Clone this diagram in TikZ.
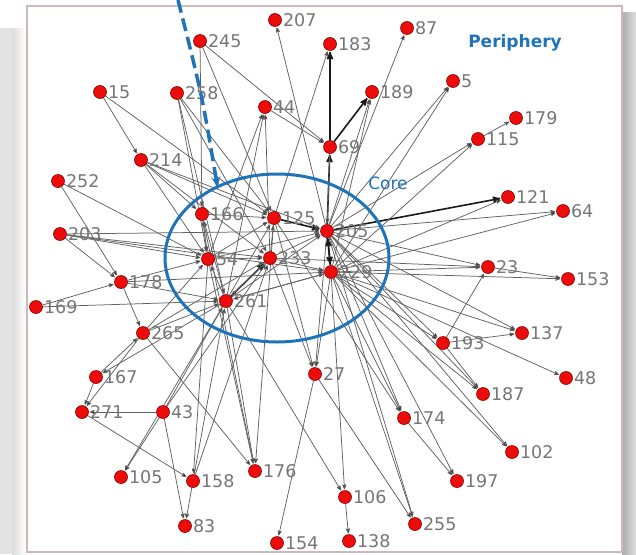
\documentclass[tikz,border=0pt]{standalone}
\usepackage{fontspec}
\setmainfont{DejaVu Sans}
\usepackage{tikz}
\usetikzlibrary{arrows}
\usetikzlibrary{backgrounds}
\definecolor{coreblue}{RGB}{30,115,185}
\definecolor{nodered}{RGB}{236,12,12}
\definecolor{labelgray}{RGB}{118,118,118}
\definecolor{framerose}{RGB}{205,185,185}

\begin{document}
\begin{tikzpicture}[->,>=stealth',shorten >=1pt,x=1pt,y=-1pt]
    \tikzstyle{vertex} = [circle, fill=nodered, draw=red!55!black, line width=0.6pt, minimum size=13pt,
       inner sep=0pt, label distance=0pt]
    \tikzstyle{lbl} = [text=labelgray, font=\fontsize{17.5}{19}\selectfont, inner sep=1pt]
    \tikzstyle{edge} = [draw=black!62, line width=0.75pt]
    \tikzstyle{heavy} = [draw=black!90, line width=1.6pt]
    \tikzstyle{tag} = [text=coreblue, font=\fontsize{17}{19}\selectfont, inner sep=0pt]
    \useasboundingbox (0,0) rectangle (636,554);

    %nodes
    \node[vertex, label={[lbl]right:207}] (n207) at (275,20) {};
    \node[vertex, label={[lbl]right:87}]  (n87)  at (407,28) {};
    \node[vertex, label={[lbl]right:245}] (n245) at (200,41) {};
    \node[vertex, label={[lbl]right:183}] (n183) at (330,44) {};
    \node[vertex, label={[lbl]right:15}]  (n15)  at (100,92) {};
    \node[vertex, label={[lbl]right:258}] (n258) at (177,93) {};
    \node[vertex, label={[lbl]right:5}]   (n5)   at (453,81) {};
    \node[vertex, label={[lbl]right:189}] (n189) at (372,92) {};
    \node[vertex, label={[lbl]right:44}]  (n44)  at (265,107) {};
    \node[vertex, label={[lbl]right:179}] (n179) at (516,118) {};
    \node[vertex, label={[lbl]right:115}] (n115) at (478,139) {};
    \node[vertex, label={[lbl]right:69}]  (n69)  at (330,147) {};
    \node[vertex, label={[lbl]right:214}] (n214) at (141,160) {};
    \node[vertex, label={[lbl]right:252}] (n252) at (58,181) {};
    \node[vertex, label={[lbl]right:121}] (n121) at (508,197) {};
    \node[vertex, label={[lbl]right:64}]  (n64)  at (563,211) {};
    \node[vertex, label={[lbl]right:166}] (n166) at (202,214) {};
    \node[vertex, label={[lbl]right:125}] (n125) at (274,218) {};
    \node[vertex, label={[lbl]right:205}] (n205) at (327,231) {};
    \node[vertex, label={[lbl]right:203}] (n203) at (60,234) {};
    \node[vertex, label={[lbl]right:54}]  (n54)  at (208,259) {};
    \node[vertex, label={[lbl]right:233}] (n233) at (270,258) {};
    \node[vertex, label={[lbl]right:229}] (n229) at (331,272) {};
    \node[vertex, label={[lbl]right:23}]  (n23)  at (488,267) {};
    \node[vertex, label={[lbl]right:153}] (n153) at (568,279) {};
    \node[vertex, label={[lbl]right:178}] (n178) at (121,282) {};
    \node[vertex, label={[lbl]right:169}] (n169) at (36,307) {};
    \node[vertex, label={[lbl]right:261}] (n261) at (226,301) {};
    \node[vertex, label={[lbl]right:265}] (n265) at (143,333) {};
    \node[vertex, label={[lbl]right:137}] (n137) at (522,333) {};
    \node[vertex, label={[lbl]right:193}] (n193) at (443,343) {};
    \node[vertex, label={[lbl]right:48}]  (n48)  at (566,378) {};
    \node[vertex, label={[lbl]right:167}] (n167) at (96,377) {};
    \node[vertex, label={[lbl]right:27}]  (n27)  at (315,374) {};
    \node[vertex, label={[lbl]right:187}] (n187) at (483,394) {};
    \node[vertex, label={[lbl]right:271}] (n271) at (82,412) {};
    \node[vertex, label={[lbl]right:43}]  (n43)  at (163,412) {};
    \node[vertex, label={[lbl]right:174}] (n174) at (404,418) {};
    \node[vertex, label={[lbl]right:102}] (n102) at (512,452) {};
    \node[vertex, label={[lbl]right:105}] (n105) at (121,477) {};
    \node[vertex, label={[lbl]right:158}] (n158) at (193,481) {};
    \node[vertex, label={[lbl]right:176}] (n176) at (255,471) {};
    \node[vertex, label={[lbl]right:197}] (n197) at (457,481) {};
    \node[vertex, label={[lbl]right:106}] (n106) at (345,497) {};
    \node[vertex, label={[lbl]right:83}]  (n83)  at (185,526) {};
    \node[vertex, label={[lbl]right:255}] (n255) at (415,524) {};
    \node[vertex, label={[lbl]right:154}] (n154) at (277,543) {};
    \node[vertex, label={[lbl]right:138}] (n138) at (349,541) {};

    \begin{scope}[on background layer]
    %frame and shadow
    \fill[-, gray!22] (0,28) rectangle (12,554);
    \shade[-, left color=gray!28, right color=white] (12,28) rectangle (26,554);
    \shade[-, left color=gray!65, right color=gray!25] (622,12) rectangle (636,554);
    \draw[-, framerose, fill=white, line width=1.5pt] (27,6) rectangle (622,552);
    %lines
    \path[edge] (n261) edge (n54) edge[heavy] (n233) edge (n125) edge (n229) edge (n166) edge (n205)
                       edge (n44) edge (n167) edge (n105) edge (n106) edge (n176);
    \path[edge] (n54) edge (n125) edge (n233) edge (n205) edge (n166) edge (n44) edge (n176) edge (n158);
    \path[edge] (n233) edge (n125) edge (n229) edge (n205) edge (n23) edge (n27) edge (n44) edge (n261);
    \path[edge] (n166) edge (n125) edge (n54) edge (n176);
    \path[edge] (n125) edge[heavy] (n205) edge (n183) edge (n27) edge (n174) edge (n176);
    \path[edge] (n205) edge[heavy] (n229) edge[heavy] (n121) edge[heavy] (n69) edge (n207) edge (n87)
                       edge (n189) edge (n27) edge (n174) edge (n255) edge (n102) edge (n187)
                       edge (n193) edge (n137) edge (n23) edge (n64) edge (n115) edge (n5) edge (n197);
    \path[edge] (n229) edge[heavy] (n205) edge (n261) edge (n27) edge (n106) edge (n174) edge (n255)
                       edge (n102) edge (n187) edge (n193) edge (n48) edge (n137) edge (n23)
                       edge (n153) edge (n64) edge (n121) edge (n115) edge (n5) edge (n189);
    \path[edge] (n69) edge[heavy] (n189) edge[heavy] (n183) edge (n205);
    \path[edge] (n44) edge (n69);
    \path[edge] (n245) edge (n69) edge (n125) edge (n166);
    \path[edge] (n15) edge (n214) edge (n125);
    \path[edge] (n258) edge (n54) edge (n261) edge (n233) edge (n125);
    \path[edge] (n214) edge (n54) edge (n166) edge (n125) edge (n233) edge (n205);
    \path[edge] (n252) edge (n178) edge (n54);
    \path[edge] (n203) edge (n205) edge (n229) edge (n54) edge (n178) edge (n233);
    \path[edge] (n169) edge (n261) edge (n178);
    \path[edge] (n178) edge (n265) edge (n54) edge (n261) edge (n229);
    \path[edge] (n265) edge (n261) edge (n54) edge (n233) edge (n271) edge (n176);
    \path[edge] (n167) edge (n271) edge (n265);
    \path[edge] (n271) edge (n158);
    \path[edge] (n43) edge (n271) edge (n261) edge (n233) edge (n105) edge (n83);
    \path[edge] (n158) edge (n83) edge (n261) edge (n233);
    \path[edge] (n27) edge (n154) edge (n255);
    \path[edge] (n106) edge (n138);
    \path[edge] (n174) edge (n197);
    \path[edge] (n193) edge (n187) edge (n137) edge (n23);
    \path[edge] (n23) edge (n153);
    \path[edge] (n115) edge (n179);
    \end{scope}

    %core and periphery
    \draw[-, coreblue, line width=3pt] (277,258) ellipse [x radius=112, y radius=84];
    \node[tag] (corelbl) at (388,183) {Core};
    \node[tag, font=\fontsize{17}{19}\selectfont\bfseries] (perilbl) at (515,43) {Periphery};
    \coordinate (pointer) at (178,0);
    \draw[-latex', coreblue, line width=3.5pt, dash pattern=on 13pt off 6pt, shorten >=0pt]
        (pointer) .. controls (202,95) .. (218,190);
\end{tikzpicture}
\end{document}
